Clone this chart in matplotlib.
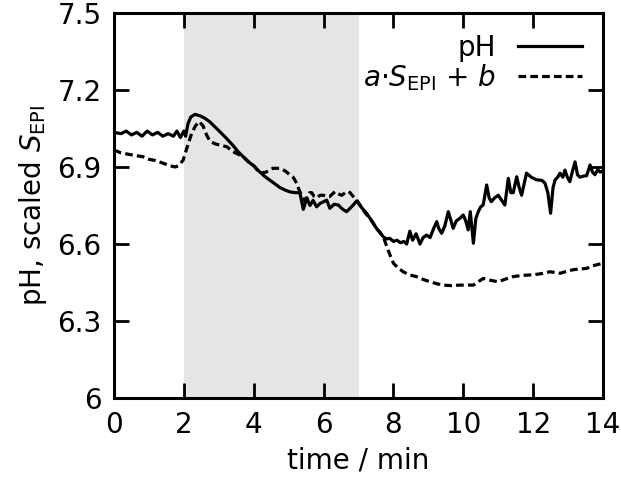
import matplotlib
matplotlib.use("Agg")
import matplotlib.pyplot as plt

# pH trace (solid)
t_ph = [0.0, 0.2, 0.35, 0.5, 0.65, 0.8, 0.95, 1.1, 1.25, 1.4, 1.55, 1.7, 1.8, 1.9, 2.0, 2.05,
        2.12, 2.2, 2.32, 2.45, 2.6, 2.75, 2.9, 3.05, 3.23, 3.4, 3.55, 3.7, 3.85, 4.0, 4.1, 4.18,
        4.3, 4.45, 4.6, 4.75, 4.9, 5.04, 5.2, 5.32, 5.42, 5.52, 5.61, 5.7, 5.8, 5.9, 6.0, 6.09,
        6.18, 6.3, 6.42, 6.55, 6.66, 6.8, 6.95, 7.1, 7.23, 7.33, 7.45, 7.52, 7.62, 7.71, 7.8,
        7.9, 8.0, 8.1, 8.2, 8.3, 8.38, 8.47, 8.55, 8.65, 8.76, 8.85, 8.95, 9.05, 9.15, 9.24,
        9.3, 9.38, 9.47, 9.57, 9.65, 9.71, 9.8, 9.9, 10.0, 10.07, 10.14, 10.2, 10.29, 10.36,
        10.43, 10.5, 10.57, 10.67, 10.74, 10.8, 10.9, 11.0, 11.1, 11.19, 11.29, 11.36, 11.43,
        11.53, 11.6, 11.67, 11.81, 11.95, 12.1, 12.25, 12.34, 12.42, 12.5, 12.57, 12.63, 12.7,
        12.77, 12.85, 12.91, 12.98, 13.05, 13.12, 13.2, 13.27, 13.34, 13.45, 13.53, 13.63,
        13.7, 13.77, 13.85, 13.92, 14.0]
ph = [7.035, 7.03, 7.04, 7.025, 7.035, 7.02, 7.04, 7.025, 7.035, 7.02, 7.03, 7.02, 7.04, 7.015,
      7.04, 7.02, 7.07, 7.095, 7.105, 7.10, 7.09, 7.075, 7.055, 7.035, 7.01, 6.985, 6.96, 6.94,
      6.92, 6.905, 6.89, 6.88, 6.865, 6.85, 6.835, 6.82, 6.81, 6.803, 6.80, 6.80, 6.735, 6.78,
      6.75, 6.77, 6.745, 6.758, 6.765, 6.771, 6.739, 6.755, 6.752, 6.735, 6.726, 6.745, 6.768,
      6.74, 6.72, 6.70, 6.675, 6.66, 6.645, 6.628, 6.62, 6.622, 6.61, 6.615, 6.605, 6.61, 6.60,
      6.65, 6.615, 6.64, 6.60, 6.625, 6.635, 6.625, 6.66, 6.687, 6.66, 6.642, 6.67, 6.726,
      6.69, 6.661, 6.69, 6.70, 6.713, 6.69, 6.655, 6.726, 6.603, 6.70, 6.726, 6.745, 6.752,
      6.83, 6.78, 6.765, 6.78, 6.79, 6.77, 6.752, 6.856, 6.80, 6.80, 6.862, 6.82, 6.79, 6.876,
      6.86, 6.85, 6.848, 6.837, 6.80, 6.72, 6.82, 6.85, 6.86, 6.876, 6.86, 6.888, 6.86, 6.843,
      6.88, 6.92, 6.87, 6.86, 6.865, 6.866, 6.908, 6.88, 6.87, 6.89, 6.88, 6.885]

# scaled S_EPI (dashed)
t_s = [0.0, 0.2, 0.4, 0.6, 0.83, 1.0, 1.2, 1.4, 1.6, 1.75, 1.85, 1.98, 2.1, 2.22, 2.33, 2.44,
       2.55, 2.65, 2.75, 2.9, 3.05, 3.23, 3.4, 3.55, 3.7, 3.85, 4.0, 4.18, 4.35, 4.55, 4.75,
       4.9, 5.04, 5.13, 5.23, 5.3, 5.37, 5.45, 5.52, 5.6, 5.66, 5.73, 5.8, 5.9, 5.99, 6.1,
       6.18, 6.25, 6.33, 6.42, 6.52, 6.62, 6.7, 6.76, 6.85, 6.95, 7.1, 7.2, 7.33, 7.45, 7.55,
       7.71, 7.85, 8.0, 8.15, 8.28, 8.45, 8.66, 8.85, 9.05, 9.25, 9.43, 9.65, 9.9, 10.1,
       10.29, 10.45, 10.57, 10.8, 11.0, 11.2, 11.43, 11.7, 12.0, 12.25, 12.48, 12.77, 13.0,
       13.15, 13.35, 13.53, 13.7, 13.85, 14.0]
s_epi = [6.966, 6.955, 6.95, 6.945, 6.94, 6.93, 6.925, 6.915, 6.905, 6.90, 6.905, 6.927, 6.98,
         7.03, 7.06, 7.077, 7.06, 7.025, 7.00, 6.99, 6.985, 6.979, 6.96, 6.95, 6.94, 6.92,
         6.905, 6.876, 6.88, 6.895, 6.895, 6.885, 6.869, 6.86, 6.837, 6.81, 6.79, 6.77, 6.78,
         6.80, 6.80, 6.785, 6.78, 6.79, 6.79, 6.785, 6.785, 6.795, 6.804, 6.795, 6.79, 6.80,
         6.805, 6.80, 6.785, 6.771, 6.74, 6.72, 6.70, 6.675, 6.655, 6.628, 6.575, 6.525,
         6.505, 6.492, 6.48, 6.473, 6.462, 6.453, 6.445, 6.44, 6.438, 6.44, 6.44, 6.44, 6.455,
         6.466, 6.458, 6.453, 6.463, 6.473, 6.478, 6.48, 6.485, 6.492, 6.486, 6.495, 6.50,
         6.503, 6.505, 6.515, 6.52, 6.525]

stim = (2, 7)
xticks = [0, 2, 4, 6, 8, 10, 12, 14]
yticks = [6.0, 6.3, 6.6, 6.9, 7.2, 7.5]
ytick_labels = ["6", "6.3", "6.6", "6.9", "7.2", "7.5"]

plt.rcParams['font.family'] = ['DejaVu Sans']
plt.rcParams['mathtext.fontset'] = 'dejavusans'

fig = plt.figure(figsize=(6.21, 4.79), dpi=100)
ax = fig.add_axes([0.1836, 0.169, 0.7874, 0.8039])

ax.axvspan(stim[0], stim[1], color='#e5e5e5', lw=0, zorder=0)
ax.plot(t_ph, ph, color='black', lw=2.3, label='pH')
ax.plot(t_s, s_epi, color='black', lw=2.3, ls=(0, (2.4, 1.3)),
        label=r'$a$·$S_{\mathrm{EPI}}$ + $b$')

ax.set_xlim(0, 14)
ax.set_ylim(6, 7.5)
ax.set_xticks(xticks)
ax.set_yticks(yticks)
ax.set_yticklabels(ytick_labels)
ax.tick_params(direction='in', length=11, width=2, labelsize=20, top=True, right=True, pad=9)
for sp in ax.spines.values():
    sp.set_linewidth(2.2)

ax.set_xlabel('time / min', fontsize=20, labelpad=6)
ax.set_ylabel(r'pH, scaled $S_{\mathrm{EPI}}$', fontsize=20, labelpad=6)

ax.legend(loc='upper right', frameon=False, fontsize=20, markerfirst=False,
          handlelength=2.3, handletextpad=0.8, labelspacing=0.0,
          borderaxespad=0.45, borderpad=0.3)

fig.savefig('out.png', dpi=100)
